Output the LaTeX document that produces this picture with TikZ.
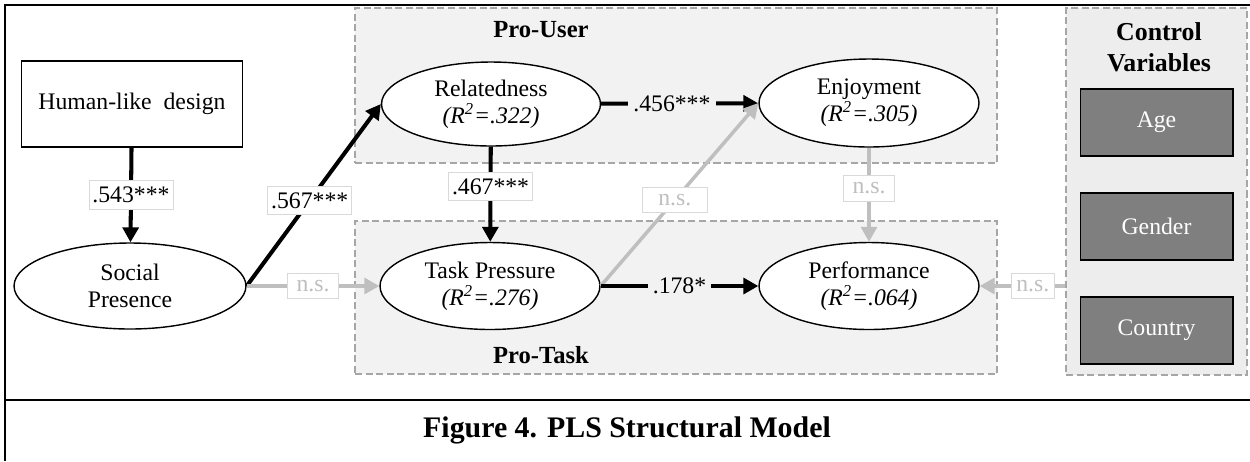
\documentclass[tikz,border=0pt]{standalone}
\usepackage{fontspec}
\setmainfont{Liberation Serif}
\usetikzlibrary{arrows.meta,shapes.geometric}
\definecolor{GrpFill}{HTML}{F2F2F2}
\definecolor{CtrlFill}{HTML}{EDEDED}
\definecolor{GrpLine}{HTML}{A6A6A6}
\definecolor{NsGray}{HTML}{BFBFBF}
\definecolor{LblLine}{HTML}{D9D9D9}
\definecolor{VarFill}{HTML}{7F7F7F}
\tikzset{
  txt/.style={font=\fontsize{13.5}{15.5}\selectfont},
  latent/.style={txt, draw, ellipse, line width=0.8pt, fill=white, minimum width=4.4cm, minimum height=1.74cm, inner sep=0pt, align=center},
  manifest/.style={txt, draw, line width=0.7pt, fill=white, minimum width=4.42cm, minimum height=1.72cm},
  grpbox/.style={draw=GrpLine, fill=GrpFill, dash pattern=on 4pt off 2pt, line width=0.8pt, inner sep=0pt},
  grptitle/.style={font=\fontsize{14}{16}\selectfont\bfseries, align=center},
  ctrlvar/.style={txt, draw, line width=0.6pt, fill=VarFill, text=white, minimum width=3.06cm, minimum height=1.34cm},
  sig/.style={line width=2.3pt, -{Triangle[length=8.5pt, width=9pt]}},
  nsig/.style={line width=2pt, NsGray, -{Triangle[length=8.5pt, width=9pt]}},
  coef/.style={txt, fill=white, draw=LblLine, line width=0.5pt, inner xsep=2pt, inner ysep=3.5pt},
  coefbare/.style={txt, fill=GrpFill, inner xsep=3pt, inner ysep=1pt},
  nslbl/.style={txt, fill=white, draw=LblLine, line width=0.5pt, text=NsGray, inner xsep=5pt, inner ysep=4pt},
  frame/.style={line width=1.1pt}
}

\begin{document}
\begin{tikzpicture}[x=0.02cm, y=-0.02cm]
\useasboundingbox (0,0) rectangle (1250,461);
% outer frame and caption
\draw[frame] (1250,5) -- (5,5) -- (5,461);
\draw[frame] (5,400) -- (1250,400);
\node[font=\fontsize{17}{20}\selectfont\bfseries] (caption) at (627,430) {Figure 4. PLS Structural Model};

% groups
\node[grpbox, minimum width=12.84cm, minimum height=3.1cm] (prouser) at (676,85.5) {};
\node[grpbox, minimum width=12.84cm, minimum height=3.06cm] (protask) at (676,297.5) {};
\node[grpbox, fill=CtrlFill, minimum width=3.62cm, minimum height=7.34cm] (ctrl) at (1156.5,191.5) {};
\node[grptitle] (usertitle) at (541,30) {Pro-User};
\node[grptitle] (tasktitle) at (541,355) {Pro-Task};
\node[grptitle, font=\fontsize{14.7}{17.5}\selectfont\bfseries] (ctrltitle) at (1159,47) {Control\\Variables};

% control variables
\node[ctrlvar] (age) at (1156.5,122.5) {Age};
\node[ctrlvar] (gender) at (1156.5,226.5) {Gender};
\node[ctrlvar] (country) at (1156.5,330.5) {Country};

% constructs
\node[manifest] (hld) at (132,104) {Human-like\ \ design};
\node[latent, minimum width=4.64cm, minimum height=1.72cm] (sp) at (130,286) {Social\\Presence};
\node[latent, minimum width=4.38cm, minimum height=1.68cm] (rel) at (491,104) {Relatedness\\\textit{(R\textsuperscript{2}=.322)}};
\node[latent, minimum height=1.76cm] (enj) at (869,103) {Enjoyment\\\textit{(R\textsuperscript{2}=.305)}};
\node[latent] (tp) at (490,286) {Task Pressure\\\textit{(R\textsuperscript{2}=.276)}};
\node[latent] (perf) at (869,286) {Performance\\\textit{(R\textsuperscript{2}=.064)}};

% paths
\draw[sig] (hld) -- node[coef] {.543***} (sp);
\draw[sig] (sp.east) -- node[coef, pos=0.47] {.567***} (rel.west);
\draw[sig] (rel) -- node[coefbare, pos=0.45] {.456***} (enj);
\draw[sig] (rel) -- node[coef, pos=0.42] {.467***} (tp);
\draw[nsig] (sp.east) -- node[nslbl] {n.s.} (tp.west);
\draw[nsig] (tp.east) -- node[nslbl, pos=0.47, inner xsep=9pt] {n.s.} (enj.west);
\draw[sig] (tp) -- node[coefbare, pos=0.5] {.178*} (perf);
\draw[nsig] (enj) -- node[nslbl, pos=0.43] {n.s.} (perf);
\draw[nsig] (ctrl.west |- perf.east) -- node[nslbl, pos=0.38, inner xsep=3pt] {n.s.} (perf.east);
\end{tikzpicture}
\end{document}
